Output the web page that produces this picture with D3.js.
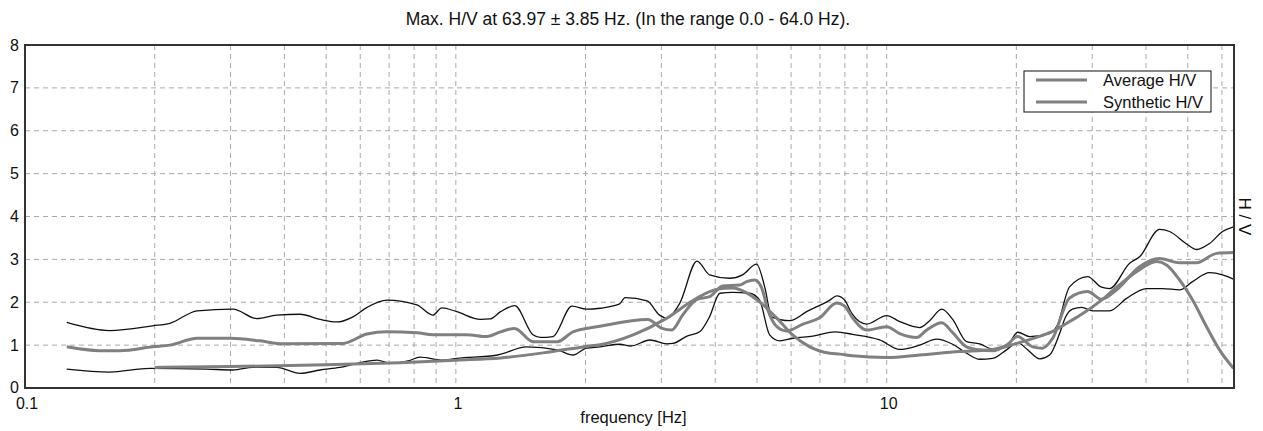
<!DOCTYPE html>
<html>
<head>
<meta charset="utf-8">
<script src="https://cdn.jsdelivr.net/npm/d3@7"></script>
<style>
  body { margin: 0; background: #fff; }
  svg { display: block; font-family: "Liberation Sans", Arial, sans-serif; }
</style>
</head>
<body>
<svg id="hv-plot"></svg>
<script>
// Data: [frequency Hz, H/V]
const upperCurve = [
    [0.125, 1.53], [0.157, 1.34], [0.198, 1.45], [0.217, 1.51], [0.251, 1.80], [0.304, 1.84],
    [0.345, 1.62], [0.384, 1.70], [0.435, 1.72], [0.484, 1.60], [0.530, 1.54], [0.577, 1.66],
    [0.622, 1.88], [0.692, 2.05], [0.812, 1.94], [0.884, 1.70], [0.928, 1.87], [1.005, 1.78],
    [1.14, 1.60], [1.20, 1.61], [1.27, 1.78], [1.37, 1.92], [1.51, 1.24], [1.57, 1.18],
    [1.68, 1.20], [1.86, 1.91], [2.01, 1.84], [2.16, 1.86], [2.40, 1.96], [2.47, 2.11],
    [2.78, 2.03], [2.97, 1.70], [3.09, 1.63], [3.31, 1.98], [3.63, 2.96], [3.88, 2.64],
    [4.32, 2.56], [4.63, 2.64], [4.99, 2.89], [5.21, 2.36], [5.41, 1.66], [5.96, 1.57],
    [6.52, 1.78], [7.38, 2.05], [7.66, 2.15], [7.99, 2.05], [8.30, 1.74], [8.99, 1.49],
    [10.0, 1.69], [10.72, 1.55], [11.93, 1.41], [12.58, 1.57], [13.42, 1.84], [14.23, 1.60],
    [15.33, 1.08], [16.44, 1.03], [17.62, 0.91], [18.98, 0.96], [20.14, 1.30], [21.47, 1.20],
    [23.89, 1.27], [24.80, 1.43], [26.58, 2.36], [29.27, 2.60], [31.53, 2.35], [32.92, 2.32],
    [36.64, 2.91], [38.64, 3.06], [42.99, 3.70], [45.36, 3.65], [49.67, 3.36], [52.40, 3.23],
    [56.16, 3.37], [60.21, 3.65], [63.8, 3.76]
];

const averageCurve = [
    [0.125, 0.96], [0.149, 0.87], [0.166, 0.87], [0.198, 0.96], [0.217, 1.00], [0.251, 1.16],
    [0.299, 1.16], [0.351, 1.10], [0.397, 1.03], [0.547, 1.04], [0.622, 1.26], [0.692, 1.31],
    [0.812, 1.29], [0.884, 1.24], [1.06, 1.24], [1.18, 1.20], [1.27, 1.31], [1.37, 1.39],
    [1.51, 1.08], [1.72, 1.08], [1.87, 1.31], [2.16, 1.44], [2.79, 1.60], [3.01, 1.39],
    [3.17, 1.35], [3.36, 1.70], [3.63, 2.07], [3.88, 2.13], [4.16, 2.38], [4.56, 2.40],
    [4.73, 2.48], [4.94, 2.52], [5.13, 2.33], [5.30, 1.82], [5.56, 1.43], [5.86, 1.33],
    [6.39, 1.49], [6.99, 1.64], [7.66, 1.98], [7.99, 1.91], [8.34, 1.63], [8.99, 1.35],
    [10.0, 1.43], [10.72, 1.27], [11.74, 1.18], [12.38, 1.35], [13.42, 1.52], [14.23, 1.29],
    [15.33, 0.96], [16.44, 0.89], [17.62, 0.87], [18.98, 1.00], [20.14, 1.20], [21.82, 0.96],
    [23.01, 0.93], [24.28, 1.16], [26.58, 2.10], [29.27, 2.25], [31.53, 2.07], [34.17, 2.29],
    [38.64, 2.83], [42.99, 3.02], [47.84, 2.92], [52.40, 2.92], [58.30, 3.14], [63.8, 3.16]
];

const lowerCurve = [
    [0.125, 0.44], [0.157, 0.37], [0.195, 0.46], [0.264, 0.44], [0.304, 0.42], [0.338, 0.48],
    [0.384, 0.48], [0.435, 0.34], [0.484, 0.42], [0.538, 0.48], [0.599, 0.59], [0.656, 0.65],
    [0.703, 0.58], [0.78, 0.64], [0.825, 0.72], [0.933, 0.65], [1.005, 0.69], [1.25, 0.77],
    [1.46, 0.96], [1.72, 0.89], [1.87, 0.77], [2.01, 0.93], [2.16, 0.96], [2.40, 1.02],
    [2.55, 0.98], [2.82, 1.12], [3.09, 1.03], [3.19, 1.04], [3.44, 1.21], [3.68, 1.31],
    [3.88, 1.66], [4.10, 2.21], [4.39, 2.23], [4.81, 2.21], [5.07, 2.05], [5.35, 1.24],
    [5.65, 1.10], [6.05, 1.16], [6.74, 1.21], [7.6, 1.31], [8.34, 1.25], [9.63, 1.12],
    [10.72, 0.90], [11.93, 1.00], [13.06, 1.14], [14.23, 1.02], [15.33, 0.81], [16.44, 0.67],
    [17.62, 0.69], [18.98, 0.89], [20.14, 1.06], [21.24, 0.89], [22.65, 0.68], [23.89, 0.77],
    [25.20, 1.27], [26.0, 1.65], [27.0, 1.84], [28.35, 1.88], [30.06, 1.80], [32.92, 1.80],
    [36.05, 2.09], [40.11, 2.32], [43.69, 2.32], [47.84, 2.29], [51.29, 2.48], [56.16, 2.69],
    [60.21, 2.64], [63.8, 2.54]
];

const syntheticCurve = [
    [0.20, 0.48], [0.30, 0.50], [0.50, 0.54], [0.741, 0.59], [1.005, 0.65], [1.27, 0.70],
    [1.65, 0.84], [2.01, 0.97], [2.16, 1.01], [2.58, 1.24], [3.09, 1.63], [3.55, 2.04],
    [4.03, 2.30], [4.39, 2.33], [4.73, 2.22], [5.07, 2.01], [5.56, 1.63], [6.05, 1.24],
    [6.63, 0.96], [7.38, 0.81], [7.78, 0.79], [8.34, 0.75], [10.0, 0.71], [11.93, 0.77],
    [14.77, 0.85], [17.62, 0.90], [20.03, 1.04], [22.28, 1.18], [24.28, 1.32], [26.58, 1.55],
    [28.35, 1.72], [31.53, 2.05], [34.17, 2.35], [38.02, 2.71], [42.32, 2.95], [44.64, 2.87],
    [47.84, 2.52], [51.29, 2.05], [55.27, 1.43], [59.24, 0.89], [63.8, 0.46]
];

const yTicks = [0, 1, 2, 3, 4, 5, 6, 7, 8];
const xLabelTicks = [0.1, 1, 10];
const xGridTicks = [0.2, 0.3, 0.4, 0.5, 0.6, 0.7, 0.8, 0.9, 1, 2, 3, 4, 5, 6, 7, 8, 9, 10, 20, 30, 40, 50, 60];
const legendItems = ["Average H/V", "Synthetic H/V"];

const titleText = "Max. H/V at 63.97 \u00b1 3.85 Hz. (In the range 0.0 - 64.0 Hz).";

function drawPlot() {
    const W = 1263, H = 431;
    const margin = { top: 45, right: 29, bottom: 43, left: 25 };
    const width = W - margin.left - margin.right;
    const height = H - margin.top - margin.bottom;

    const root = d3.select("#hv-plot").attr("width", W).attr("height", H);
    const svg = root.append("g").attr("transform", `translate(${margin.left},${margin.top})`);

    const x = d3.scaleLog().domain([0.1, 64]).range([0, width]);
    const y = d3.scaleLinear().domain([0, 8]).range([height, 0]);

    // Dashed grid
    svg.append("g").selectAll("line").data(xGridTicks).enter().append("line")
        .attr("x1", d => x(d)).attr("x2", d => x(d))
        .attr("y1", 0).attr("y2", height)
        .attr("stroke", "#aaa").attr("stroke-width", 1)
        .attr("stroke-dasharray", "5,4");
    svg.append("g").selectAll("line").data(yTicks.slice(1, -1)).enter().append("line")
        .attr("x1", 0).attr("x2", width)
        .attr("y1", d => y(d)).attr("y2", d => y(d))
        .attr("stroke", "#aaa").attr("stroke-width", 1)
        .attr("stroke-dasharray", "5,4");

    // Curves
    const line = d3.line()
        .x(d => x(d[0]))
        .y(d => y(d[1]))
        .curve(d3.curveMonotoneX);

    [upperCurve, lowerCurve].forEach(c => {
        svg.append("path").datum(c).attr("d", line)
            .attr("fill", "none").attr("stroke", "#111").attr("stroke-width", 1.3);
    });
    svg.append("path").datum(averageCurve).attr("d", line)
        .attr("fill", "none").attr("stroke", "#808080").attr("stroke-width", 3);
    svg.append("path").datum(syntheticCurve).attr("d", line)
        .attr("fill", "none").attr("stroke", "#808080").attr("stroke-width", 3);

    // Frame
    svg.append("rect")
        .attr("x", 0).attr("y", 0).attr("width", width).attr("height", height)
        .attr("fill", "none").attr("stroke", "#333").attr("stroke-width", 2);

    // Y labels
    svg.append("g").selectAll("text").data(yTicks).enter().append("text")
        .attr("x", -6)
        .attr("y", d => y(d) - (d === 0 ? 1 : 0))
        .attr("dy", "0.35em")
        .attr("text-anchor", "end")
        .style("font-size", "16px")
        .attr("fill", "#111")
        .text(d => d);

    // X labels
    svg.append("g").selectAll("text").data(xLabelTicks).enter().append("text")
        .attr("x", d => x(d) + 2)
        .attr("y", height + 21)
        .attr("text-anchor", "middle")
        .style("font-size", "16px")
        .attr("fill", "#111")
        .text(d => d);

    svg.append("text")
        .attr("x", width / 2 + 4)
        .attr("y", height + 35)
        .attr("text-anchor", "middle")
        .style("font-size", "16.5px")
        .attr("fill", "#111")
        .text("frequency [Hz]");

    // Right side label
    svg.append("text")
        .attr("transform", `translate(${width + 11},${y(4.0)}) rotate(90)`)
        .attr("text-anchor", "middle")
        .attr("dy", "0.35em")
        .style("font-size", "17px")
        .attr("fill", "#111")
        .text("H / V");

    // Title
    root.append("text")
        .attr("x", 628)
        .attr("y", 25)
        .attr("text-anchor", "middle")
        .style("font-size", "17.5px")
        .attr("fill", "#111")
        .text(titleText);

    // Legend
    const legend = svg.append("g").attr("transform", `translate(${width - 210}, 26)`);
    legend.append("rect")
        .attr("x", 0).attr("y", 0).attr("width", 187).attr("height", 41)
        .attr("fill", "#fff").attr("stroke", "#111").attr("stroke-width", 1);
    legendItems.forEach((name, i) => {
        legend.append("line")
            .attr("x1", 12).attr("x2", 63)
            .attr("y1", 9 + i * 22).attr("y2", 9 + i * 22)
            .attr("stroke", "#808080").attr("stroke-width", 3);
        legend.append("text")
            .attr("x", 79).attr("y", 15 + i * 22)
            .style("font-size", "16.5px")
            .attr("fill", "#111")
            .text(name);
    });
}

document.addEventListener("DOMContentLoaded", drawPlot);
</script>
</body>
</html>
